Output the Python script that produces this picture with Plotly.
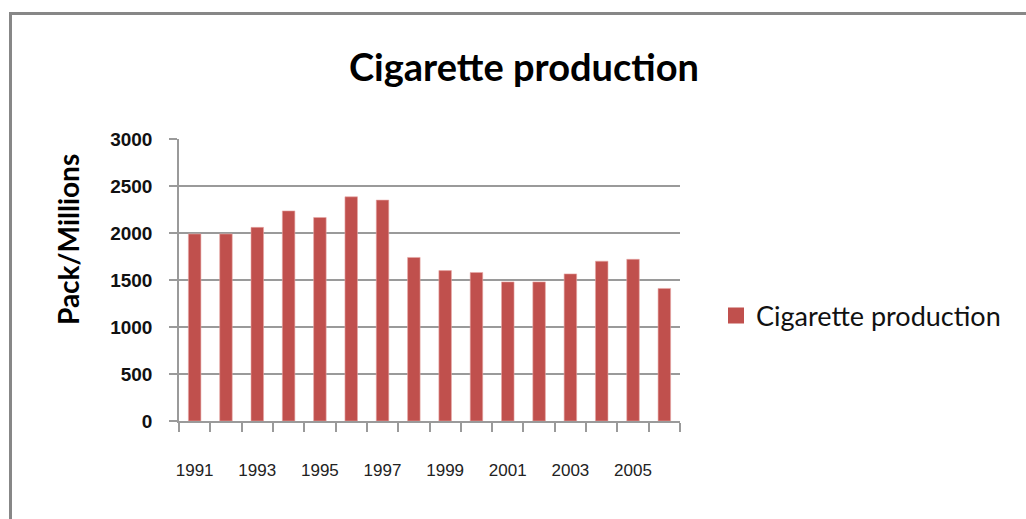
import plotly.graph_objects as go

# Annual cigarette production, packs (millions)
years = list(range(1991, 2007))
production = [1990, 1990, 2060, 2235, 2165, 2385, 2350, 1740, 1600, 1580,
              1480, 1480, 1565, 1700, 1720, 1410]
y_ticks = [0, 500, 1000, 1500, 2000, 2500, 3000]
x_labels = [1991, 1993, 1995, 1997, 1999, 2001, 2003, 2005]
series_name = "Cigarette production"

W, H = 1026, 519
L, R, T, B = 179, 680, 139, 421   # plot area in pixels


def px_x(x):
    return (x - L) / (R - L)


def px_y(y):
    return (B - y) / (B - T)


bar_color = "#C0504D"
axis_gray = "#9A9A9A"

fig = go.Figure()
fig.add_trace(go.Bar(
    x=years, y=production, name=series_name, showlegend=False,
    marker=dict(color=bar_color, line=dict(color="#E8A8A6", width=0.6)),
    width=0.4,
))
# Legend entry drawn with a larger square swatch
fig.add_trace(go.Scatter(
    x=[None], y=[None], mode="markers", name=series_name,
    marker=dict(symbol="square", size=16, color=bar_color),
))

fig.update_layout(
    width=W, height=H,
    margin=dict(l=L, r=W - R, t=T, b=H - B, pad=0),
    paper_bgcolor="white", plot_bgcolor="white",
    title=dict(text="<b>Cigarette production</b>", x=524 / W, xanchor="center",
               y=1 - 68 / H, yanchor="middle",
               font=dict(family="Lato", size=38, color="black")),
    showlegend=True,
    legend=dict(x=px_x(716), y=px_y(316), xanchor="left", yanchor="middle",
                font=dict(family="Lato", size=27, color="#111111"),
                bgcolor="rgba(0,0,0,0)"),
    bargap=0.6,
    font=dict(family="Liberation Sans"),
)

fig.update_xaxes(
    range=[1990.5, 2006.5], tickmode="array", tickvals=x_labels,
    ticktext=[str(v) for v in x_labels], ticks="", ticklabelstandoff=33,
    tickfont=dict(family="Liberation Sans", size=17, color="#222222"),
    showgrid=False, showline=True, linecolor=axis_gray, linewidth=1.5,
    zeroline=False,
    minor=dict(tickmode="array", tickvals=[y + 0.5 for y in range(1990, 2007)],
               ticks="outside", ticklen=9, tickcolor=axis_gray, tickwidth=1.5,
               showgrid=False),
)

fig.update_yaxes(
    range=[0, 3000], tickmode="array", tickvals=y_ticks,
    ticktext=[str(v) for v in y_ticks],
    ticks="outside", ticklen=8, tickcolor=axis_gray, tickwidth=1.5,
    tickfont=dict(family="Liberation Sans", size=19, color="#111111", weight="bold"),
    ticklabelstandoff=13,
    showgrid=True, gridcolor=axis_gray, gridwidth=1.5,
    showline=True, linecolor=axis_gray, linewidth=1.5, zeroline=False,
)

# Y axis title
fig.add_annotation(
    text="<b>Pack/Millions</b>", xref="paper", yref="paper",
    x=px_x(68), y=px_y(240), xanchor="center", yanchor="middle",
    textangle=-90, showarrow=False,
    font=dict(family="Lato", size=28, color="black"),
)

# Chart frame
fig.add_shape(type="rect", xref="paper", yref="paper",
              x0=px_x(10.5), x1=px_x(1040), y0=px_y(13.5), y1=px_y(540),
              line=dict(color="#878787", width=3), fillcolor="rgba(0,0,0,0)",
              layer="below")

fig.write_html("out.html")
